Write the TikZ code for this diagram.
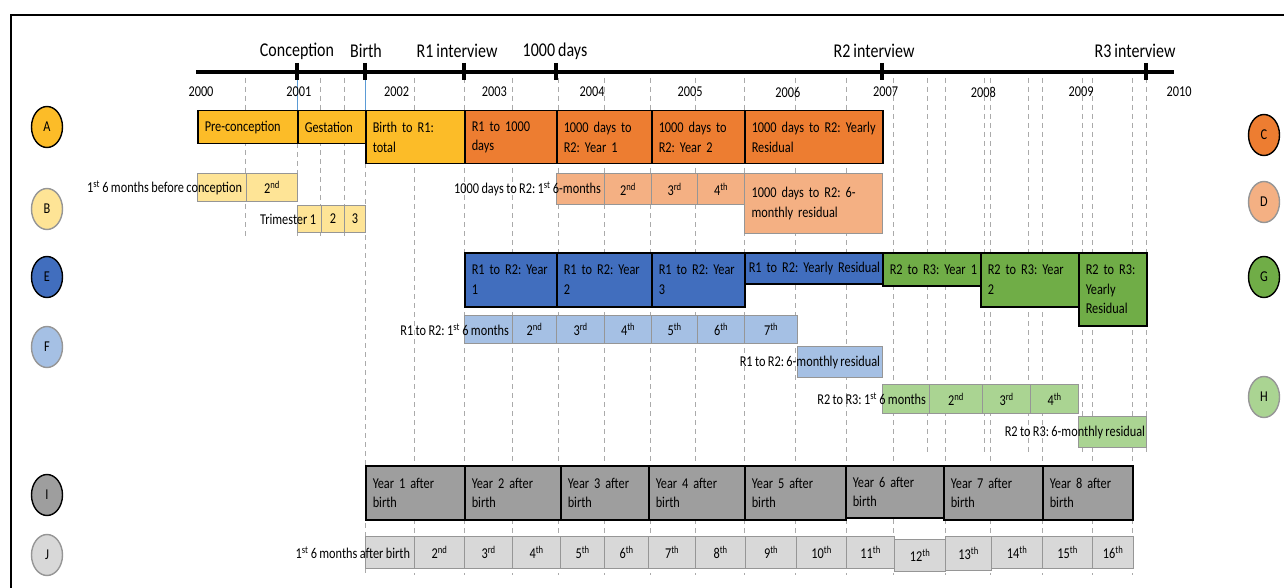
\documentclass[tikz,border=0pt]{standalone}
\usepackage{fontspec}
\setmainfont{Carlito}[FakeStretch=0.82, WordSpace=0.85]
\usetikzlibrary{shapes.geometric}
\definecolor{cA}{RGB}{252,188,40}
\definecolor{cB}{RGB}{254,228,150}
\definecolor{cC}{RGB}{237,125,49}
\definecolor{cD}{RGB}{244,176,131}
\definecolor{cE}{RGB}{65,110,190}
\definecolor{cF}{RGB}{165,192,228}
\definecolor{cG}{RGB}{112,173,71}
\definecolor{cH}{RGB}{170,212,146}
\definecolor{cI}{RGB}{158,158,158}
\definecolor{cJ}{RGB}{216,216,216}
\definecolor{ltgray}{RGB}{150,150,150}
\definecolor{dashgray}{RGB}{170,170,170}
\definecolor{tickblue}{RGB}{91,155,213}
\newcommand\bxfont{\fontsize{15}{19.5}\selectfont}
\newcommand\tpfont{\fontsize{19.5}{22}\selectfont}
\newcommand\yrfont{\fontsize{15}{17}\selectfont}
\newcommand\lefont{\fontsize{15}{17}\selectfont}
\newcommand\tbx[7]{%
  \pgfmathsetmacro\bw{#5-#3}\pgfmathsetmacro\bh{#6-#4}\pgfmathsetmacro\tw{#5-#3-14}%
  \node[#2, minimum width=\bw pt, minimum height=\bh pt, text width=\tw pt] (#1) at (#3,#4) {#7};}
\newcommand\sth[1]{\textsuperscript{#1}}
\begin{document}
\frenchspacing\hyphenpenalty=10000\exhyphenpenalty=10000
\begin{tikzpicture}[x=1pt,y=-1pt,
  dk/.style={anchor=north west, draw=black, line width=1.5pt, inner xsep=7pt, inner ysep=0pt, font=\bxfont, align=left},
  lt/.style={anchor=north west, draw=ltgray, line width=1.2pt, inner xsep=7pt, inner ysep=0pt, font=\bxfont, align=center},
  fA/.style={dk, fill=cA}, fB/.style={lt, fill=cB},
  fC/.style={dk, fill=cC}, fD/.style={lt, fill=cD},
  fE/.style={dk, fill=cE}, fF/.style={lt, fill=cF},
  fG/.style={dk, fill=cG}, fH/.style={lt, fill=cH},
  fI/.style={dk, fill=cI}, fJ/.style={lt, fill=cJ},
  ltleft/.style={align=left},
  olbl/.style={font=\bxfont, inner sep=0pt, anchor=east},
  toplbl/.style={font=\tpfont, inner sep=0pt},
  yrlbl/.style={font=\yrfont, inner sep=0pt},
  guide/.style={draw=dashgray, line width=0.8pt, dash pattern=on 5pt off 4pt},
  tickmark/.style={line width=3.5pt},
  darkcirc/.style={ellipse, draw=black, line width=1.4pt, minimum width=31pt, minimum height=41pt, inner sep=0pt, font=\lefont},
  lightcirc/.style={ellipse, draw=ltgray, line width=1.4pt, minimum width=31pt, minimum height=41pt, inner sep=0pt, font=\lefont}
]
\useasboundingbox (0,0) rectangle (1284,588);
\fill[white] (0,0) rectangle (1284,588);
% frame
\draw[line width=2.5pt] (11,588) -- (11,15) -- (1284,15);

% guide lines
\foreach \gx in {245,320,344} \draw[guide] (\gx,78) -- (\gx,236);
\draw[guide] (297,143) -- (297,236);
\draw[guide] (365,163) -- (365,575);
\foreach \gx in {414,464,512,558,604,650,695,744,795,846,893,945,990,1042,1092,1132} \draw[guide] (\gx,78) -- (\gx,575);
\foreach \gx in {927,984,1028,1082,1146} \draw[guide] (\gx,78) -- (\gx,455);
\draw[tickblue, line width=0.8pt] (297,74) -- (297,110);
\draw[tickblue, line width=0.8pt] (365,74) -- (365,110);

% axis
\coordinate (ax0) at (196,72);
\coordinate (ax1) at (1174,72);
\draw[line width=4pt] (ax0) -- (ax1);
\foreach \tx in {297,365,464,556,882,1146} \draw[tickmark] (\tx,63) -- (\tx,80);
\node[toplbl] (tConc) at (297,51) {Conception};
\node[toplbl] (tBirth) at (366,51) {Birth};
\node[toplbl] (tR1) at (457,51) {R1 interview};
\node[toplbl] (t1000) at (555,51) {1000 days};
\node[toplbl] (tR2) at (874,51) {R2 interview};
\node[toplbl] (tR3) at (1135,51) {R3 interview};
\foreach \k/\yr in {0/2000,1/2001,2/2002,3/2003,4/2004,5/2005,6/2006,7/2007,8/2008,9/2009,10/2010}
  \node[yrlbl] (y\yr) at ({201+97.8*\k},92) {\yr};

% row A / C
\tbx{a1}{fA}{197}{110}{297}{143}{Pre-conception}
\tbx{a2}{fA}{297}{110}{365}{143}{Gestation}
\tbx{a3}{fA}{365}{110}{464}{163}{Birth to R1:\\total}
\tbx{c1}{fC}{464}{110}{556}{163}{R1 to 1000\\days}
\tbx{c2}{fC}{556}{110}{651}{163}{1000 days to\\R2: Year 1}
\tbx{c3}{fC}{651}{110}{744}{163}{1000 days to\\R2: Year 2}
\tbx{c4}{fC}{744}{110}{882}{163}{\mbox{1000 days to R2: Yearly}\\Residual}

% row B
\tbx{b1}{fB}{197}{173}{246}{201}{}
\tbx{b2}{fB}{246}{173}{297}{201}{2\sth{nd}}
\node[olbl] (b1t) at ([xshift=-5pt]b1.east) {1\sth{st} 6 months before conception};
\tbx{tr1}{fB}{297}{205}{321}{232}{}
\tbx{tr2}{fB}{321}{205}{344}{232}{2}
\tbx{tr3}{fB}{344}{205}{365}{232}{3}
\node[olbl] (tr1t) at ([xshift=-6pt]tr1.east) {Trimester 1};

% row D
\tbx{d1}{fD}{556}{173}{604}{204}{}
\tbx{d2}{fD}{604}{173}{651}{204}{2\sth{nd}}
\tbx{d3}{fD}{651}{173}{697}{204}{3\sth{rd}}
\tbx{d4}{fD}{697}{173}{744}{204}{4\sth{th}}
\tbx{d5}{fD,ltleft}{744}{173}{882}{233}{\mbox{1000 days to R2: 6-}\\monthly residual\\[6pt]}
\node[olbl] (d1t) at ([xshift=-4pt]d1.east) {1000 days to R2: 1\sth{st} 6-months};

% row E / G
\tbx{e1}{fE}{464}{252}{556}{306}{R1 to R2: Year\\1}
\tbx{e2}{fE}{556}{252}{651}{306}{R1 to R2: Year\\2}
\tbx{e3}{fE}{651}{252}{744}{306}{R1 to R2: Year\\3}
\tbx{e4}{fE}{744}{252}{882}{283}{\hspace*{-3pt}\mbox{R1 to R2: Yearly Residual}}
\tbx{g1}{fG}{882}{252}{980}{285}{\mbox{R2 to R3: Year 1}}
\tbx{g2}{fG}{980}{252}{1078}{306}{R2 to R3: Year\\2}
\tbx{g3}{fG}{1078}{252}{1146}{325}{R2 to R3:\\Yearly\\Residual}

% row F
\tbx{f1}{fF}{464}{315}{512}{343}{}
\tbx{f2}{fF}{512}{315}{556}{343}{2\sth{nd}}
\tbx{f3}{fF}{556}{315}{604}{343}{3\sth{rd}}
\tbx{f4}{fF}{604}{315}{651}{343}{4\sth{th}}
\tbx{f5}{fF}{651}{315}{697}{343}{5\sth{th}}
\tbx{f6}{fF}{697}{315}{744}{343}{6\sth{th}}
\tbx{f7}{fF}{744}{315}{797}{343}{7\sth{th}}
\node[olbl] (f1t) at ([xshift=-4pt]f1.east) {R1 to R2: 1\sth{st} 6 months};
\tbx{f8}{fF}{797}{346}{882}{377}{}
\node[olbl] (f8t) at ([xshift=-3pt]f8.east) {R1 to R2: 6-monthly residual};

% row H
\tbx{h1}{fH}{882}{384}{929}{413}{}
\tbx{h2}{fH}{929}{384}{982}{413}{2\sth{nd}}
\tbx{h3}{fH}{982}{384}{1030}{413}{3\sth{rd}}
\tbx{h4}{fH}{1030}{384}{1078}{413}{4\sth{th}}
\node[olbl] (h1t) at ([xshift=-4pt]h1.east) {R2 to R3: 1\sth{st} 6 months};
\tbx{h5}{fH}{1078}{416}{1146}{447}{}
\node[olbl] (h5t) at ([xshift=-2pt]h5.east) {R2 to R3: 6-monthly residual};

% row I
\tbx{i1}{fI}{365}{465}{464}{519}{Year 1 after\\birth}
\tbx{i2}{fI}{464}{465}{560}{519}{Year 2 after\\birth}
\tbx{i3}{fI}{560}{465}{648}{519}{Year 3 after\\birth}
\tbx{i4}{fI}{648}{465}{744}{519}{Year 4 after\\birth}
\tbx{i5}{fI}{744}{465}{845}{519}{Year 5 after\\birth}
\tbx{i6}{fI}{845}{465}{943}{517}{Year 6 after\\birth}
\tbx{i7}{fI}{943}{465}{1042}{519}{Year 7 after\\birth}
\tbx{i8}{fI}{1042}{465}{1132}{519}{Year 8 after\\birth}

% row J
\tbx{j1}{fJ}{365}{536}{414}{568}{}
\tbx{j2}{fJ}{414}{536}{464}{568}{2\sth{nd}}
\tbx{j3}{fJ}{464}{536}{512}{568}{3\sth{rd}}
\tbx{j4}{fJ}{512}{536}{560}{568}{4\sth{th}}
\tbx{j5}{fJ}{560}{536}{604}{568}{5\sth{th}}
\tbx{j6}{fJ}{604}{536}{648}{568}{6\sth{th}}
\tbx{j7}{fJ}{648}{536}{695}{568}{7\sth{th}}
\tbx{j8}{fJ}{695}{536}{745}{568}{8\sth{th}}
\tbx{j9}{fJ}{745}{536}{796}{568}{9\sth{th}}
\tbx{j10}{fJ}{796}{536}{846}{568}{10\sth{th}}
\tbx{j11}{fJ}{846}{536}{894}{568}{11\sth{th}}
\tbx{j12}{fJ}{894}{539}{945}{571}{12\sth{th}}
\tbx{j13}{fJ}{945}{536}{991}{570}{13\sth{th}}
\tbx{j14}{fJ}{991}{536}{1042}{568}{14\sth{th}}
\tbx{j15}{fJ}{1042}{536}{1092}{568}{15\sth{th}}
\tbx{j16}{fJ}{1092}{536}{1133}{568}{16\sth{th}}
\node[olbl] (j1t) at ([xshift=-5pt]j1.east) {1\sth{st} 6 months after birth};

% letter circles
\node[darkcirc, fill=cA] (LA) at (47,127) {A};
\node[lightcirc, fill=cB] (LB) at (47,209) {B};
\node[darkcirc, fill=cE] (LE) at (47,277) {E};
\node[lightcirc, fill=cF] (LF) at (47,347) {F};
\node[darkcirc, fill=cI] (LI) at (47,495) {I};
\node[lightcirc, fill=cJ] (LJ) at (47,555) {J};
\node[darkcirc, fill=cC] (LC) at (1264,135) {C};
\node[lightcirc, fill=cD] (LD) at (1264,202) {D};
\node[darkcirc, fill=cG] (LG) at (1264,277) {G};
\node[lightcirc, fill=cH] (LH) at (1264,397) {H};
\end{tikzpicture}
\end{document}
